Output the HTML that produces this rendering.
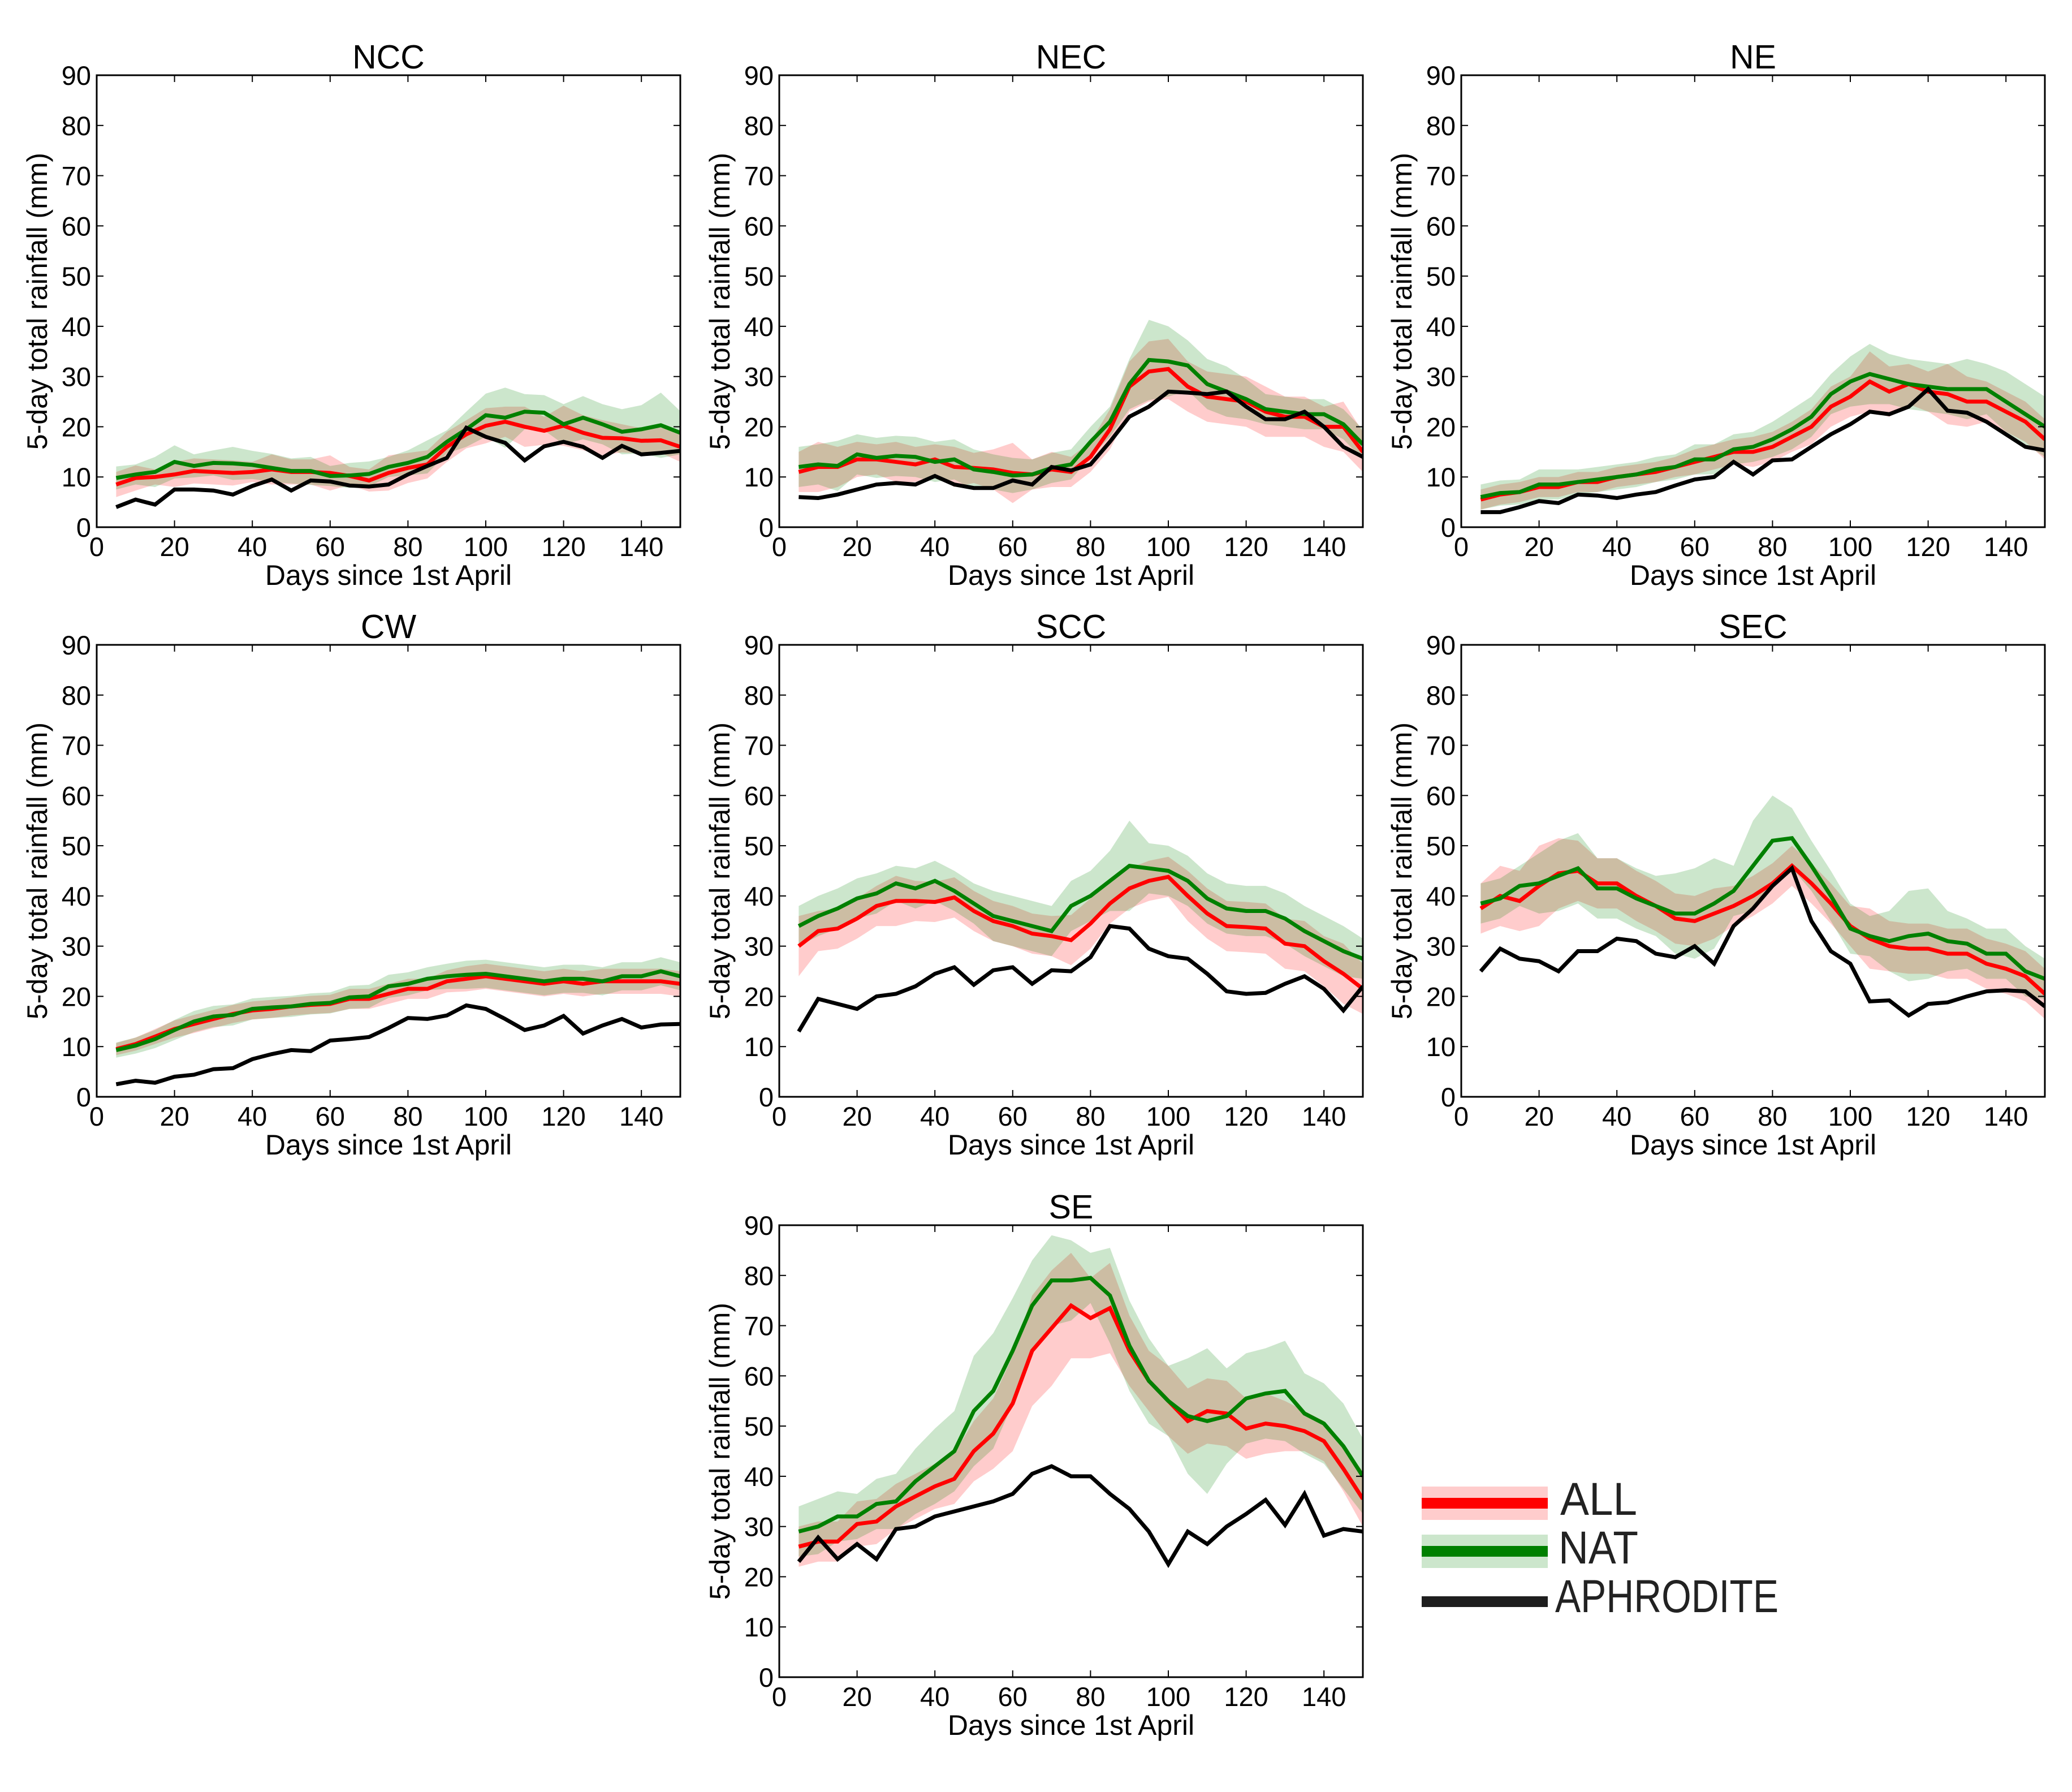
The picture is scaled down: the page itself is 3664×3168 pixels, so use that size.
<!DOCTYPE html>
<html><head><meta charset="utf-8"><style>
html,body{margin:0;padding:0;background:#fff;}
svg{display:block;font-family:"Liberation Sans","DejaVu Sans",sans-serif;}
</style></head><body>
<svg id="fig" width="3664" height="3168" viewBox="0 0 3664 3168" xmlns="http://www.w3.org/2000/svg">
<rect width="3664" height="3168" fill="#fff"/>
<g id="legend">
 <g>
  <rect x="2514" y="2628" width="223" height="59" fill="#ff0000" fill-opacity="0.2"/>
  <rect x="2514" y="2648" width="223" height="19" fill="#ff0000"/>
  <text x="2759" y="2678" font-size="82" fill="#222" textLength="136" lengthAdjust="spacingAndGlyphs">ALL</text>
 </g>
 <g>
  <rect x="2514" y="2713" width="223" height="59" fill="#008000" fill-opacity="0.2"/>
  <rect x="2514" y="2733" width="223" height="19" fill="#008000"/>
  <text x="2756" y="2764" font-size="82" fill="#222" textLength="141" lengthAdjust="spacingAndGlyphs">NAT</text>
 </g>
 <g>
  <rect x="2514" y="2822" width="223" height="19" fill="#1e1e1e"/>
  <text x="2750" y="2850" font-size="82" fill="#222" textLength="395" lengthAdjust="spacingAndGlyphs">APHRODITE</text>
 </g>
</g>
</svg>
<script>
const DAYS=[5,10,15,20,25,30,35,40,45,50,55,60,65,70,75,80,85,90,95,100,105,110,115,120,125,130,135,140,145,150];
const X_TICKS=[0,20,40,60,80,100,120,140];
const Y_TICKS=[0,10,20,30,40,50,60,70,80,90];
const PANEL_NAMES=["NCC","NEC","NE","CW","SCC","SEC","SE"];

const NCC_ALL=[8.5,9.8,10,10.5,11.2,11,10.8,11,11.5,11,11,10.8,10.2,9.3,10.8,11.8,12.5,16,18.5,20.2,21,20,19.2,20.2,18.8,17.8,17.7,17.2,17.3,16];
const NCC_ALL_SPREAD=[2.5,2.5,1.5,2.5,2.5,2.5,2.5,2,3,2.5,2.5,3.5,1.8,2.2,3.5,3,2.8,3,2.8,3.5,3,4,2.8,4,3.5,3.5,2.8,2.5,2.5,3];
const NCC_NAT=[9.8,10.5,11,13,12.2,12.8,12.7,12.4,11.8,11.2,11.2,10.2,10.3,10.6,12,12.8,14,17,19.5,22.3,21.8,23,22.8,20.5,21.8,20.5,19,19.5,20.3,18.8];
const NCC_NAT_SPREAD=[2.3,2,3,3.3,2.3,2.5,3.3,2.8,2.8,2.5,2.8,2,2.5,2.5,2,2.5,3.3,2.3,3.5,4.3,6,3.5,3.5,4,4.3,4,4.5,4.8,6.5,4.3];
const NCC_APH=[4,5.5,4.5,7.5,7.5,7.3,6.5,8.2,9.5,7.3,9.3,9.1,8.3,8.1,8.5,10.5,12.2,13.8,19.8,18,16.8,13.3,16.1,17,16,13.8,16.2,14.5,14.8,15.2];

const NEC_ALL=[11,12,12,13.5,13.5,13,12.5,13.5,12,11.8,11.5,10.8,10.5,11.5,11,14,19.5,28,31,31.5,28,26,25.5,25,23,22,22,20,20,15];
const NEC_ALL_SPREAD=[4,5,4,3.5,3,4,3.5,3,4,3,4,6,3,3.5,3,3,4,5,6,6,5,5,5,5,5,4,4,4,5,4];
const NEC_NAT=[12,12.5,12.2,14.5,13.8,14.2,14,13,13.5,11.5,11,10.3,10.5,11.8,12.5,17,21,28.5,33.3,33,32.2,28.5,27,25.5,23.5,23,22.5,22.5,20.5,16.5];
const NEC_NAT_SPREAD=[4,4,5,4,4,4,4,4,4,4,3.5,3.5,3,3,3,3,3,5,8,7,5,5,5,4,3,3,3,3,3,3];
const NEC_APH=[6,5.8,6.5,7.5,8.5,8.8,8.5,10.2,8.5,7.8,7.8,9.3,8.5,12,11.3,12.5,17,22,24,27,26.8,26.5,27,24,21.5,21.5,23,20,16,14];

const NE_ALL=[5.5,6.5,7,8,8,9,9,10,10.5,11,12,13,14,15,15,16,18,20,24,26,29,27,28.5,27,26.5,25,25,23,21,17.5];
const NE_ALL_SPREAD=[2,2,2,2,2,2,2,2,2,2,2,2.5,2.5,2.5,3,3,3,3.5,4,4,6,5,4,4,6,5,4,4,4,4];
const NE_NAT=[6,6.8,7,8.5,8.5,9,9.5,10,10.5,11.5,12,13.5,13.5,15.5,16,17.5,19.5,22,26.5,29,30.5,29.5,28.5,28,27.5,27.5,27.5,25,22.5,20];
const NE_NAT_SPREAD=[2.5,2.5,2.5,3,3,2.5,2.5,2.5,2.5,2.5,2.5,3,3,3,3,3.5,4,4,4,5,6,5,5,5,5,6,5,6,6,6];
const NE_APH=[3,3,4,5.2,4.8,6.5,6.3,5.8,6.5,7,8.3,9.5,10,13,10.5,13.3,13.5,16,18.5,20.5,23,22.5,24,27.5,23.2,22.8,21,18.5,16,15.3];

const CW_ALL=[9.5,10.5,12,13.5,14.5,15.5,16.5,17.2,17.5,18,18.3,18.5,19.5,19.5,20.5,21.5,21.5,23,23.5,24,23.5,23,22.5,23,22.5,23,23,23,23,22.5];
const CW_ALL_SPREAD=[1.2,1.3,1.5,1.7,1.8,1.8,1.8,1.8,1.8,1.8,1.8,1.8,2,2,2,2,2,2.2,2.5,2.5,2.5,2.5,2.5,2.5,2.5,2.5,2.5,2.5,2.5,2.5];
const CW_NAT=[9.3,10.2,11.5,13.3,15,16,16.3,17.5,17.8,18,18.5,18.7,19.8,20,22,22.5,23.5,24,24.3,24.5,24,23.5,23,23.5,23.5,23,24,24,25,24];
const CW_NAT_SPREAD=[1.5,1.6,1.8,2,2.1,2.1,2.1,2.1,2.1,2.1,2.1,2.1,2.3,2.3,2.3,2.3,2.3,2.5,2.8,2.8,2.8,2.8,2.8,2.8,2.8,2.8,2.8,2.8,2.8,2.8];
const CW_APH=[2.5,3.2,2.8,4,4.4,5.5,5.7,7.5,8.5,9.3,9.1,11.2,11.5,11.9,13.7,15.7,15.5,16.2,18.2,17.5,15.5,13.3,14.2,16.1,12.6,14.2,15.5,13.8,14.4,14.5];

const SCC_ALL=[30,33,33.5,35.5,38,39,39,38.8,39.7,37,35,34,32.5,32,31.2,34.5,38.5,41.5,43,43.8,40,36.5,34,33.8,33.5,30.5,30,27,24.5,21.5];
const SCC_ALL_SPREAD=[6,4,4,4,4,5,4,4,4,4,4,4,4,4,5,5,4,4,4,4,5,5,5,5,5,5,5,5,6,5];
const SCC_NAT=[34,36,37.5,39.5,40.5,42.5,41.5,43,41,38.5,36,35,34,33,38,40,43,46,45.5,45,43,39.5,37.5,37,37,35.5,33,31,29,27.5];
const SCC_NAT_SPREAD=[4,4,4,4,4,3.5,4,4,4,4,5,5,5,5,5,5,6,9,5,5,5,5,5,5,5,5,5,5,5,4];
const SCC_APH=[13,19.5,18.5,17.5,20,20.5,22,24.5,25.8,22.3,25.2,25.8,22.5,25.2,25,27.8,34,33.5,29.5,28,27.5,24.5,21,20.5,20.7,22.5,24,21.5,17.2,22];

const SEC_ALL=[37.5,40,39,42,44.5,45,42.5,42.5,40,38,35.5,35,36.5,38,40,42.5,46,42.5,38.5,34,31.5,30,29.5,29.5,28.5,28.5,26.5,25.5,24,20.5];
const SEC_ALL_SPREAD=[5,6,6,8,7,6,5,5,5,5,5,5,5,4,4,4,4,4,4,4,6,5,5,5,5,5,5,5,5,5];
const SEC_NAT=[38.5,39.5,42,42.5,44,45.5,41.5,41.5,39.5,38,36.5,36.5,38.5,41,46,51,51.5,46,40,33.5,32,31,32,32.5,31,30.5,28.5,28.5,25,23.5];
const SEC_NAT_SPREAD=[4,4,4,6,7,7,6,6,6,6,8,9,9,5,9,9,6,5,5,5,4,6,9,9,6,5,5,5,5,4];
const SEC_APH=[25,29.5,27.5,27,25,29,29,31.5,31,28.5,27.8,30,26.5,34,37.5,42,45.5,35,29,26.5,19,19.2,16.2,18.5,18.8,20,21,21.2,21,18];

const SE_ALL=[26,27,27,30.5,31,34,36,38,39.5,45,48.5,54.5,65,69.5,74,71.5,73.5,65,59,55,51,53,52.5,49.5,50.5,50,49,47,41.5,35.5];
const SE_ALL_SPREAD=[4,4,4,4.5,4.5,4.5,4.5,4.5,5,6,7,9.5,11,11.5,10.5,8,9,7,6,7,6.5,6.5,6.5,6,6,5,4,4,4.5,5.5];
const SE_NAT=[29,30,32,32,34.5,35,39,42,45,53,57,65,74,79,79,79.5,76,66,59,55,52,51,52,55.5,56.5,57,52.5,50.5,46,40];
const SE_NAT_SPREAD=[5,5.5,5,4.5,5,5.5,6.5,7.5,8,11,11.5,10.5,9,9,8,5,9.5,9,8.5,7,11.5,14.5,9.5,9,9,10,8,8,8.5,7.5];
const SE_APH=[23,27.8,23.5,26.5,23.5,29.5,30,32,33,34,35,36.5,40.5,42,40,40,36.5,33.5,29,22.5,29,26.5,30,32.5,35.3,30.3,36.5,28.2,29.5,29];

const NS="http://www.w3.org/2000/svg";
const svg=document.getElementById('fig');
const legend=document.getElementById('legend');
const W=1032,H=799,XMAX=150,YMAX=90;
const layout=[[171,133],[1378,133],[2584,133],[171,1140],[1378,1140],[2584,1140],[1378,2166]];
const series=[
 [NCC_ALL,NCC_ALL_SPREAD,NCC_NAT,NCC_NAT_SPREAD,NCC_APH],
 [NEC_ALL,NEC_ALL_SPREAD,NEC_NAT,NEC_NAT_SPREAD,NEC_APH],
 [NE_ALL,NE_ALL_SPREAD,NE_NAT,NE_NAT_SPREAD,NE_APH],
 [CW_ALL,CW_ALL_SPREAD,CW_NAT,CW_NAT_SPREAD,CW_APH],
 [SCC_ALL,SCC_ALL_SPREAD,SCC_NAT,SCC_NAT_SPREAD,SCC_APH],
 [SEC_ALL,SEC_ALL_SPREAD,SEC_NAT,SEC_NAT_SPREAD,SEC_APH],
 [SE_ALL,SE_ALL_SPREAD,SE_NAT,SE_NAT_SPREAD,SE_APH]];

function mk(tag,attrs,parent){const e=document.createElementNS(NS,tag);for(const k in attrs)e.setAttribute(k,attrs[k]);parent.appendChild(e);return e;}

PANEL_NAMES.forEach((name,i)=>{
 const L=layout[i][0],T=layout[i][1];
 const xs=v=>L+v/XMAX*W, ys=v=>T+H-v/YMAX*H;
 const g=mk('g',{},svg);
 
 
 const cid='clip'+i;
 const cp=mk('clipPath',{id:cid},g);mk('rect',{x:L,y:T,width:W,height:H},cp);
 const plot=mk('g',{'clip-path':'url(#'+cid+')'},g);
 const [all,allS,nat,natS,aph]=series[i];
 function band(m,s,col,nm){
  let d='M'+DAYS.map((x,j)=>xs(x)+','+ys(m[j]+s[j])).join('L');
  for(let j=DAYS.length-1;j>=0;j--)d+='L'+xs(DAYS[j])+','+ys(m[j]-s[j]);
  const p=mk('path',{d:d+'Z',fill:col,'fill-opacity':0.2,stroke:'none'},plot);
  
  
 }
 function line(m,col,nm){
  const p=mk('path',{d:'M'+DAYS.map((x,j)=>xs(x)+','+ys(m[j])).join('L'),fill:'none',stroke:col,'stroke-width':7,'stroke-linejoin':'miter'},plot);
  
  
 }
 band(all,allS,'#ff0000','all-range-band');
 band(nat,natS,'#008000','nat-range-band');
 line(all,'#ff0000','all-mean-line');
 line(nat,'#008000','nat-mean-line');
 line(aph,'#000000','aphrodite-line');
 const fr=mk('rect',{x:L,y:T,width:W,height:H,fill:'none',stroke:'#000','stroke-width':3},g);
 
 
 X_TICKS.forEach(t=>{
  const x=xs(t);
  mk('line',{x1:x,x2:x,y1:T+H,y2:T+H-12,stroke:'#000','stroke-width':2},g);
  mk('line',{x1:x,x2:x,y1:T,y2:T+12,stroke:'#000','stroke-width':2},g);
  const tx=mk('text',{x:x,y:T+H+51,'font-size':47,'text-anchor':'middle'},g);
  tx.textContent=t;
  
  
 });
 Y_TICKS.forEach(t=>{
  const y=ys(t);
  mk('line',{x1:L,x2:L+12,y1:y,y2:y,stroke:'#000','stroke-width':2},g);
  mk('line',{x1:L+W,x2:L+W-12,y1:y,y2:y,stroke:'#000','stroke-width':2},g);
  const tx=mk('text',{x:L-10,y:y+17,'font-size':47,'text-anchor':'end'},g);
  tx.textContent=t;
  
  
 });
 const ti=mk('text',{x:L+W/2,y:T-12,'font-size':59,'text-anchor':'middle'},g);
 ti.textContent=name;
 
 
 const xl=mk('text',{x:L+W/2,y:T+H+102,'font-size':50,'text-anchor':'middle'},g);
 xl.textContent='Days since 1st April';
 
 
 const yx=L-88,yy=T+H/2;
 const yl=mk('text',{x:yx,y:yy,'font-size':50,'text-anchor':'middle',transform:'rotate(-90 '+yx+' '+yy+')'},g);
 yl.textContent='5-day total rainfall (mm)';
 
 
});
svg.appendChild(legend);
</script>
</body></html>
